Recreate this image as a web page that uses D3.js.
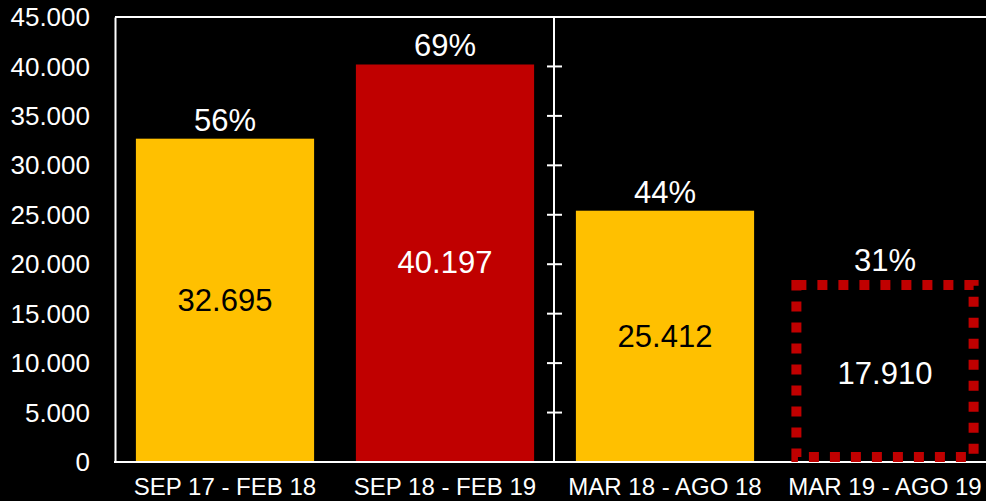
<!DOCTYPE html>
<html>
<head>
<meta charset="utf-8">
<script src="https://cdn.jsdelivr.net/npm/d3@7"></script>
<style>
  html, body { margin: 0; padding: 0; background: #000; overflow: hidden; }
  svg { display: block; }
</style>
</head>
<body>
<script>
// data
var categories = ["SEP 17 - FEB 18", "SEP 18 - FEB 19", "MAR 18 - AGO 18", "MAR 19 - AGO 19"];
var values = [32695, 40197, 25412, 17910];
var percents = ["56%", "69%", "44%", "31%"];
var barStyles = ["yellow", "red", "yellow", "dashed"];
var yTicks = [0, 5000, 10000, 15000, 20000, 25000, 30000, 35000, 40000, 45000];

var width = 986, height = 501;
var plotLeft = 115, plotRight = 995, plotTop = 17, plotBottom = 462;

var fmt = d3.formatLocale({decimal: ",", thousands: ".", grouping: [3], currency: ["", ""]}).format(",d");

var svg = d3.select("body").append("svg")
    .attr("width", width)
    .attr("height", height)
    .style("font-family", "'Liberation Sans', Arial, sans-serif");

svg.append("rect").attr("width", width).attr("height", height).attr("fill", "#000");

var x = d3.scaleBand()
    .domain(categories)
    .range([plotLeft, plotRight])
    .paddingInner(0.19)
    .paddingOuter(0.095);

var y = d3.scaleLinear()
    .domain([0, 45000])
    .range([plotBottom, plotTop]);

var data = categories.map(function(c, i){
  return {cat: c, value: values[i], pct: percents[i], style: barStyles[i]};
});

//****************************** Bars ******************************
var solid = data.filter(function(d){ return d.style != "dashed"; });
svg.selectAll("rect.bar")
    .data(solid)
    .enter().append("rect")
      .attr("class", "bar")
      .attr("x", function(d){ return x(d.cat); })
      .attr("y", function(d){ return y(d.value); })
      .attr("width", x.bandwidth())
      .attr("height", function(d){ return y(0) - y(d.value); })
      .attr("fill", function(d){ return d.style == "red" ? "#C00000" : "#FFC000"; });

//****************************** Axes ******************************
// frame: top line
svg.append("line")
    .attr("x1", plotLeft).attr("x2", width)
    .attr("y1", y(45000)).attr("y2", y(45000))
    .attr("stroke", "#fff").attr("stroke-width", 2);

// left axis
var yAxis = svg.append("g")
    .attr("transform", "translate(" + plotLeft + ",0)")
    .call(d3.axisLeft(y).tickValues(yTicks).tickFormat(fmt).tickSize(0).tickPadding(25));
yAxis.select(".domain").attr("stroke", "#fff").attr("stroke-width", 2);
yAxis.selectAll("text")
    .attr("fill", "#fff")
    .attr("font-size", "26px")
    .attr("dy", "0.33em")
    .style("font-family", "'Liberation Sans', Arial, sans-serif");

// bottom line
svg.append("line")
    .attr("x1", plotLeft - 1).attr("x2", width)
    .attr("y1", y(0)).attr("y2", y(0))
    .attr("stroke", "#fff").attr("stroke-width", 2);

// divider between periods
var divX = x(categories[1]) + x.bandwidth() + x.step() * x.paddingInner() / 2 - 1;
svg.append("line")
    .attr("x1", divX).attr("x2", divX)
    .attr("y1", y(45000)).attr("y2", y(0))
    .attr("stroke", "#fff").attr("stroke-width", 2);
svg.selectAll("line.divtick")
    .data(yTicks.slice(1, -1))
    .enter().append("line")
      .attr("class", "divtick")
      .attr("x1", divX - 7).attr("x2", divX + 8)
      .attr("y1", function(d){ return y(d); })
      .attr("y2", function(d){ return y(d); })
      .attr("stroke", "#fff").attr("stroke-width", 2);

// category labels
svg.selectAll("text.cat")
    .data(categories)
    .enter().append("text")
      .attr("class", "cat")
      .attr("x", function(d){ return x(d) + x.bandwidth() / 2; })
      .attr("y", 495)
      .attr("text-anchor", "middle")
      .attr("fill", "#fff")
      .attr("font-size", "24px")
      .text(function(d){ return d; });

//****************************** Dashed bar ******************************
var dashed = data.filter(function(d){ return d.style == "dashed"; });
svg.selectAll("rect.dashed")
    .data(dashed)
    .enter().append("rect")
      .attr("class", "dashed")
      .attr("x", function(d){ return x(d.cat) + 0.5; })
      .attr("y", function(d){ return y(d.value); })
      .attr("width", x.bandwidth() - 1)
      .attr("height", function(d){ return y(0) - y(d.value) - 5; })
      .attr("fill", "none")
      .attr("stroke", "#C00000")
      .attr("stroke-width", 10)
      .attr("stroke-dasharray", "10,11");

//****************************** Labels ******************************
svg.selectAll("text.pct")
    .data(data)
    .enter().append("text")
      .attr("class", "pct")
      .attr("x", function(d){ return x(d.cat) + x.bandwidth() / 2; })
      .attr("y", function(d){ return y(d.value) - (d.style == "dashed" ? 14 : 8); })
      .attr("text-anchor", "middle")
      .attr("fill", "#fff")
      .attr("font-size", "31px")
      .text(function(d){ return d.pct; });

svg.selectAll("text.val")
    .data(data)
    .enter().append("text")
      .attr("class", "val")
      .attr("x", function(d){ return x(d.cat) + x.bandwidth() / 2; })
      .attr("y", function(d){ return (y(d.value) + y(0)) / 2; })
      .attr("dy", "0.33em")
      .attr("text-anchor", "middle")
      .attr("fill", function(d){ return d.style == "yellow" ? "#000" : "#fff"; })
      .attr("font-size", "31px")
      .text(function(d){ return fmt(d.value); });
</script>
</body>
</html>
